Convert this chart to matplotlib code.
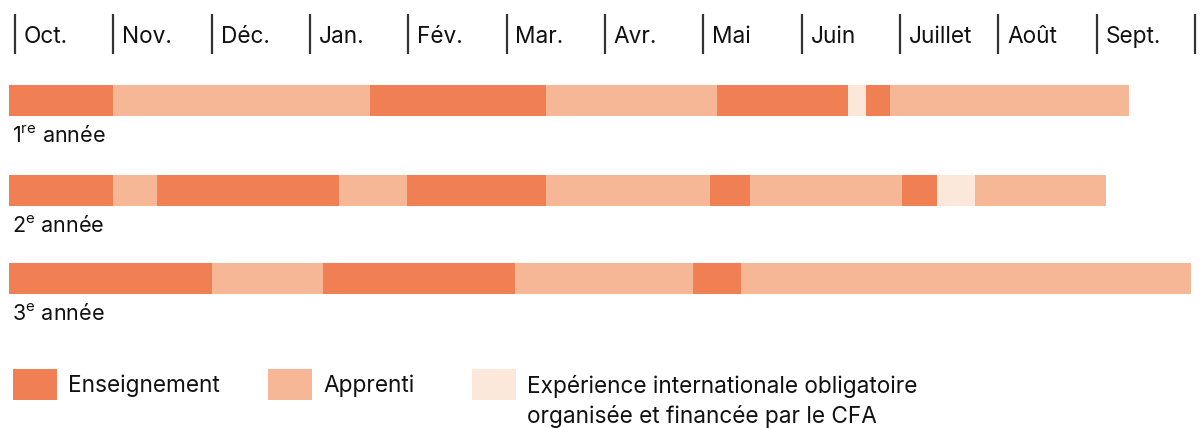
import matplotlib
matplotlib.use('Agg')
import matplotlib.pyplot as plt
from matplotlib.patches import Rectangle

plt.rcParams['font.family'] = ['Inter', 'DejaVu Sans']
plt.rcParams['mathtext.fontset'] = 'custom'
plt.rcParams['mathtext.rm'] = 'Inter'

months = ['Oct.', 'Nov.', 'Déc.', 'Jan.', 'Fév.', 'Mar.', 'Avr.', 'Mai', 'Juin', 'Juillet', 'Août', 'Sept.']

# segment edges in months (0 = start of October)
edges_1 = [-0.06, 1.0, 3.61, 5.40, 7.14, 8.47, 8.65, 8.90, 11.33]
kinds_1 = ['E', 'A', 'E', 'A', 'E', 'I', 'E', 'A']
edges_2 = [-0.06, 1.0, 1.44, 3.30, 3.99, 5.40, 7.07, 7.47, 9.02, 9.38, 9.76, 11.10]
kinds_2 = ['E', 'A', 'E', 'A', 'E', 'A', 'E', 'A', 'E', 'I', 'A']
edges_3 = [-0.06, 2.0, 3.13, 5.09, 6.90, 7.38, 11.96]
kinds_3 = ['E', 'A', 'E', 'A', 'E', 'A']

row_labels = ['1$^{\\rm re}$ année', '2$^{\\rm e}$ année', '3$^{\\rm e}$ année']
legend_labels = ['Enseignement', 'Apprenti',
                 'Expérience internationale obligatoire\norganisée et financée par le CFA']

colors = {'E': '#F08054', 'A': '#F6B796', 'I': '#FBE8DB'}

W, H = 1203, 428
fig = plt.figure(figsize=(W/100, H/100), dpi=100)
ax = fig.add_axes([0, 0, 1, 1])
mpx = 98.33  # px per month
x0 = 15
ax.set_xlim(-x0/mpx, (W-x0)/mpx)
ax.set_ylim(H, 0)
ax.axis('off')

def px(x):
    return (x - x0) / mpx

# month header
for i in range(len(months)+1):
    ax.plot([i, i], [14, 54], color='#333333', lw=1.6, solid_capstyle='butt')
for i, m in enumerate(months):
    ax.text(i+0.09, 37, m, fontsize=16.3, va='center', ha='left', color='#111111')

rows = [(edges_1, kinds_1), (edges_2, kinds_2), (edges_3, kinds_3)]
centers = [100, 190.5, 278.5]
for (edges, kinds), yc, lab in zip(rows, centers, row_labels):
    for k in range(len(kinds)):
        ax.barh(yc, edges[k+1]-edges[k], left=edges[k], height=31,
                color=colors[kinds[k]], linewidth=0)
    ax.text(px(12), yc+35, lab, fontsize=15.5, va='center', ha='left', color='#111111')

# legend
lx = [13, 268, 472]
for x, key, lab in zip(lx, ['E', 'A', 'I'], legend_labels):
    ax.add_patch(Rectangle((px(x), 369), 44/mpx, 31, color=colors[key], lw=0))
    for j, line in enumerate(lab.split('\n')):
        ax.text(px(x+55), 386 + 30*j, line, fontsize=16.3, va='center', ha='left',
                color='#111111')

fig.savefig('out.png', dpi=100)
